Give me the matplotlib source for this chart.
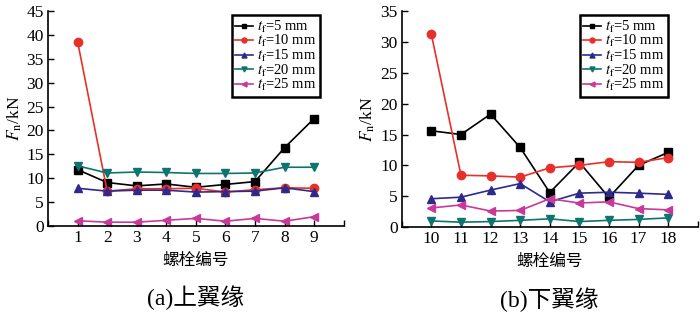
import matplotlib
matplotlib.use("Agg")
import matplotlib.pyplot as plt

plt.rcParams['font.family'] = ['Liberation Serif', 'Noto Sans CJK SC']
plt.rcParams['mathtext.fontset'] = 'stix'

# bolt numbers
bolts_top = [1, 2, 3, 4, 5, 6, 7, 8, 9]
bolts_bot = [10, 11, 12, 13, 14, 15, 16, 17, 18]

# upper flange, Fn in kN
top_5 = [11.8, 9.1, 8.4, 8.8, 8.1, 8.7, 9.3, 16.4, 22.5]
top_10 = [38.6, 7.3, 7.8, 7.8, 7.9, 7.1, 7.6, 8.0, 7.9]
top_15 = [7.9, 7.3, 7.5, 7.5, 7.1, 7.2, 7.3, 8.0, 7.2]
top_20 = [12.6, 11.1, 11.3, 11.2, 11.0, 11.0, 11.1, 12.3, 12.3]
top_25 = [1.1, 0.8, 0.8, 1.2, 1.6, 1.0, 1.6, 1.0, 1.95]

# lower flange, Fn in kN
bot_5 = [15.6, 15.0, 18.3, 12.9, 5.6, 10.5, 4.8, 10.0, 12.1]
bot_10 = [31.2, 8.4, 8.3, 8.1, 9.6, 10.0, 10.6, 10.5, 11.25]
bot_15 = [4.6, 4.85, 6.0, 7.05, 4.1, 5.5, 5.65, 5.5, 5.3]
bot_20 = [1.0, 0.8, 0.9, 1.1, 1.35, 0.9, 1.1, 1.25, 1.5]
bot_25 = [3.1, 3.6, 2.6, 2.7, 4.6, 3.9, 4.1, 3.0, 2.8]

labels = ['$t_\\mathrm{f}$=5 mm', '$t_\\mathrm{f}$=10 mm', '$t_\\mathrm{f}$=15 mm',
          '$t_\\mathrm{f}$=20 mm', '$t_\\mathrm{f}$=25 mm']
colors = ['black', '#e8302a', '#2e2a8c', '#0e7470', '#c8399a']
markers = ['s', 'o', '^', 'v', '<']


def draw_panel(ax, x, series, ymax, xlim, caption, leg_x):
    for y, lab, c, m in zip(series, labels, colors, markers):
        ax.plot(x, y, color=c, marker=m, markersize=6, linewidth=1.2, label=lab)
    ax.set_xlim(*xlim)
    ax.set_ylim(0, ymax)
    ticks = list(range(xlim[0], xlim[1] + 1))
    ax.set_xticks(ticks)
    ax.set_xticklabels([str(t) if t in x else '' for t in ticks])
    ax.set_yticks(range(0, ymax + 1, 5))
    ax.tick_params(direction='in', length=4, width=1, labelsize=12.5, pad=3)
    ax.spines['top'].set_visible(False)
    ax.spines['right'].set_visible(False)
    for s in ['left', 'bottom']:
        ax.spines[s].set_linewidth(1.2)
    ax.set_ylabel('$F_\\mathrm{n}$/kN', fontsize=12.5, labelpad=2)
    ax.set_xlabel('螺栓编号', family='Noto Sans CJK SC', fontsize=12, labelpad=4)
    leg = ax.legend(loc='upper right', bbox_to_anchor=(leg_x, 0.995), fontsize=10.5,
                    handlelength=1.2, handletextpad=0.3, labelspacing=-0.1,
                    borderpad=0.25, borderaxespad=0.2, markerscale=0.6,
                    fancybox=False, framealpha=1)
    leg.get_frame().set_edgecolor('black')
    leg.get_frame().set_linewidth(1.8)
    ax.text(0.5, -0.335, caption, transform=ax.transAxes, ha='center', va='center',
            fontsize=17, family=['Liberation Serif', 'Noto Sans CJK SC'])


fig = plt.figure(figsize=(7.0, 3.19), dpi=100)
ax1 = fig.add_axes([0.0686, 0.2915, 0.4224, 0.674])
ax2 = fig.add_axes([0.574, 0.288, 0.4227, 0.6775])

draw_panel(ax1, bolts_top, [top_5, top_10, top_15, top_20, top_25], 45, (0, 10),
           '(a)上翼缘', 0.93)
draw_panel(ax2, bolts_bot, [bot_5, bot_10, bot_15, bot_20, bot_25], 35, (9, 19),
           '(b)下翼缘', 0.91)

fig.savefig('out.png', dpi=100)
